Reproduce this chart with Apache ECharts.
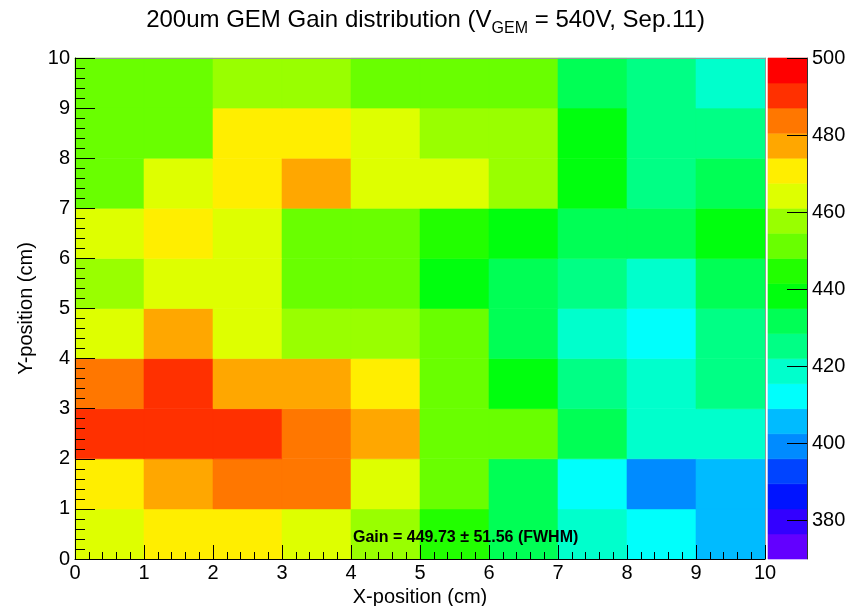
<!DOCTYPE html>
<html><head><meta charset="utf-8">
<script src="https://cdn.jsdelivr.net/npm/echarts@6/dist/echarts.min.js"></script>
<style>html,body{margin:0;padding:0;background:#fff}#c{width:851px;height:606px}</style>
</head><body><div id="c"></div>
<script>
// ---- data ----
const xBins = [0, 1, 2, 3, 4, 5, 6, 7, 8, 9];
const yBins = [0, 1, 2, 3, 4, 5, 6, 7, 8, 9];
const gainRow0 = [464, 471, 471, 464, 458, 445, 432, 419, 412, 406];
const gainRow1 = [471, 477, 484, 484, 464, 451, 432, 412, 399, 406];
const gainRow2 = [490, 490, 490, 484, 477, 451, 451, 432, 419, 419];
const gainRow3 = [484, 490, 477, 477, 471, 451, 438, 425, 419, 425];
const gainRow4 = [464, 477, 464, 458, 458, 451, 432, 419, 412, 425];
const gainRow5 = [458, 464, 464, 451, 451, 438, 432, 425, 419, 432];
const gainRow6 = [464, 471, 464, 451, 451, 445, 438, 432, 432, 438];
const gainRow7 = [451, 464, 471, 477, 464, 464, 458, 438, 425, 432];
const gainRow8 = [451, 451, 471, 471, 464, 458, 458, 438, 425, 425];
const gainRow9 = [451, 451, 458, 458, 451, 451, 451, 432, 425, 419];
const zMin = 370, zMax = 500, nContours = 20;
const paletteColors = ['#6300FF','#3300FF','#0014FF','#0044FF','#008BFF','#00BBFF','#00FFFC','#00FFCC','#00FF85','#00FF55',
                       '#00FF0E','#22FF00','#69FF00','#99FF00','#DEFF00','#FFEE00','#FFA700','#FF7700','#FF3000','#FF0000'];
const zTickLabels = [380, 400, 420, 440, 460, 480, 500];
const titleParts = ['200um GEM Gain distribution (V', 'GEM', ' = 540V, Sep.11)'];
const xTitle = 'X-position (cm)';
const yTitle = 'Y-position (cm)';
const fitText = 'Gain = 449.73 \u00B1 51.56 (FWHM)';

// ---- build ----
const rows = [gainRow0, gainRow1, gainRow2, gainRow3, gainRow4, gainRow5, gainRow6, gainRow7, gainRow8, gainRow9];
const cells = [];
rows.forEach((r, yi) => r.forEach((v, xi) => cells.push([xBins[xi], yBins[yi], v])));
const step = (zMax - zMin) / nContours;
const levels = paletteColors.map((c, i) => zMin + i * step);
const pieces = levels.map((lo, i) => (i === levels.length - 1)
  ? { gte: lo, lte: zMax, color: paletteColors[i] }
  : { gte: lo, lt: lo + step, color: paletteColors[i] });
const bands = levels.map((lo, i) => [lo, lo + step, i]);

const FONT = '"Liberation Sans", Arial, Helvetica, sans-serif';
const chart = echarts.init(document.getElementById('c'), null, { renderer: 'canvas' });
chart.setOption({
  animation: false,
  backgroundColor: '#fff',
  title: {
    text: '{t|' + titleParts[0] + '}{s|' + titleParts[1] + '}{t|' + titleParts[2] + '}',
    left: 'center', top: 3, padding: 0,
    textStyle: {
      fontWeight: 'normal',
      rich: {
        t: { fontFamily: FONT, fontSize: 24, fontWeight: 'normal', color: '#000', lineHeight: 34, verticalAlign: 'middle' },
        s: { fontFamily: FONT, fontSize: 16, fontWeight: 'normal', color: '#000', lineHeight: 12, verticalAlign: 'bottom' }
      }
    }
  },
  grid: [
    { left: 75, top: 58, width: 690, height: 501, outerBoundsMode: 'none', containLabel: false },
    { left: 768, top: 58, width: 39, height: 501, outerBoundsMode: 'none', containLabel: false }
  ],
  visualMap: {
    type: 'piecewise', show: false, seriesIndex: 0, dimension: 2, pieces: pieces
  },
  xAxis: [
    {
      type: 'value', gridIndex: 0, min: 0, max: 10, interval: 1, z: 10,
      axisLine: { show: true, onZero: false, lineStyle: { color: '#000', width: 1 } },
      axisTick: { show: true, inside: true, length: 14, lineStyle: { color: '#000' } },
      minorTick: { show: true, splitNumber: 5, length: 7, lineStyle: { color: '#000' } },
      axisLabel: { fontFamily: FONT, fontSize: 20, color: '#000', margin: 4 },
      splitLine: { show: false },
      name: xTitle, nameLocation: 'middle', nameGap: 19,
      nameTextStyle: { fontFamily: FONT, fontSize: 20, color: '#000' }
    },
    {
      type: 'value', gridIndex: 0, min: 0, max: 10, position: 'top', z: 10,
      axisLine: { show: true, onZero: false, lineStyle: { color: '#999', width: 1 } },
      axisTick: { show: false }, axisLabel: { show: false }, splitLine: { show: false }
    },
    {
      type: 'value', gridIndex: 1, min: 0, max: 1, show: false
    }
  ],
  yAxis: [
    {
      type: 'value', gridIndex: 0, min: 0, max: 10, interval: 1, z: 10,
      axisLine: { show: true, onZero: false, lineStyle: { color: '#000', width: 1 } },
      axisTick: { show: true, inside: true, length: 20, lineStyle: { color: '#000' } },
      minorTick: { show: true, splitNumber: 5, length: 10, lineStyle: { color: '#000' } },
      axisLabel: { fontFamily: FONT, fontSize: 20, color: '#000', margin: 5 },
      splitLine: { show: false },
      name: yTitle, nameLocation: 'middle', nameGap: 37,
      nameTextStyle: { fontFamily: FONT, fontSize: 20, color: '#000' }
    },
    {
      type: 'value', gridIndex: 0, min: 0, max: 10, position: 'right', z: 10,
      axisLine: { show: true, onZero: false, lineStyle: { color: '#999', width: 1 } },
      axisTick: { show: false }, axisLabel: { show: false }, splitLine: { show: false }
    },
    {
      type: 'value', gridIndex: 1, min: zMin, max: zMax, position: 'right', z: 10,
      axisLine: { show: true, onZero: false, lineStyle: { color: '#333', width: 1 } },
      axisTick: { show: true, inside: true, length: 20, customValues: zTickLabels, lineStyle: { color: '#000' } },
      axisLabel: { customValues: zTickLabels, fontFamily: FONT, fontSize: 20, color: '#000', margin: 5 },
      splitLine: { show: false }
    }
  ],
  series: [
    {
      type: 'custom', xAxisIndex: 0, yAxisIndex: 0, z: 2,
      data: cells,
      encode: { x: 0, y: 1 },
      renderItem: function (params, api) {
        const x = api.value(0), y = api.value(1);
        const p0 = api.coord([x, y + 1]);
        const p1 = api.coord([x + 1, y]);
        const c = api.visual('color');
        return { type: 'rect',
          shape: { x: p0[0], y: p0[1], width: p1[0] - p0[0], height: p1[1] - p0[1] },
          style: { fill: c, stroke: c, lineWidth: 0.6 } };
      }
    },
    {
      type: 'custom', xAxisIndex: 2, yAxisIndex: 2, z: 2,
      data: bands,
      encode: { y: [0, 1] },
      renderItem: function (params, api) {
        const p0 = api.coord([0, api.value(1)]);
        const p1 = api.coord([1, api.value(0)]);
        const c = paletteColors[api.value(2)];
        return { type: 'rect',
          shape: { x: p0[0], y: p0[1], width: p1[0] - p0[0], height: p1[1] - p0[1] },
          style: { fill: c, stroke: c, lineWidth: 0.6 } };
      }
    }
  ],
  graphic: [
    { type: 'text', left: 353, top: 530, z: 100,
      style: { text: fitText, font: 'bold 16px ' + FONT, fill: '#000' } }
  ]
});
</script></body></html>
